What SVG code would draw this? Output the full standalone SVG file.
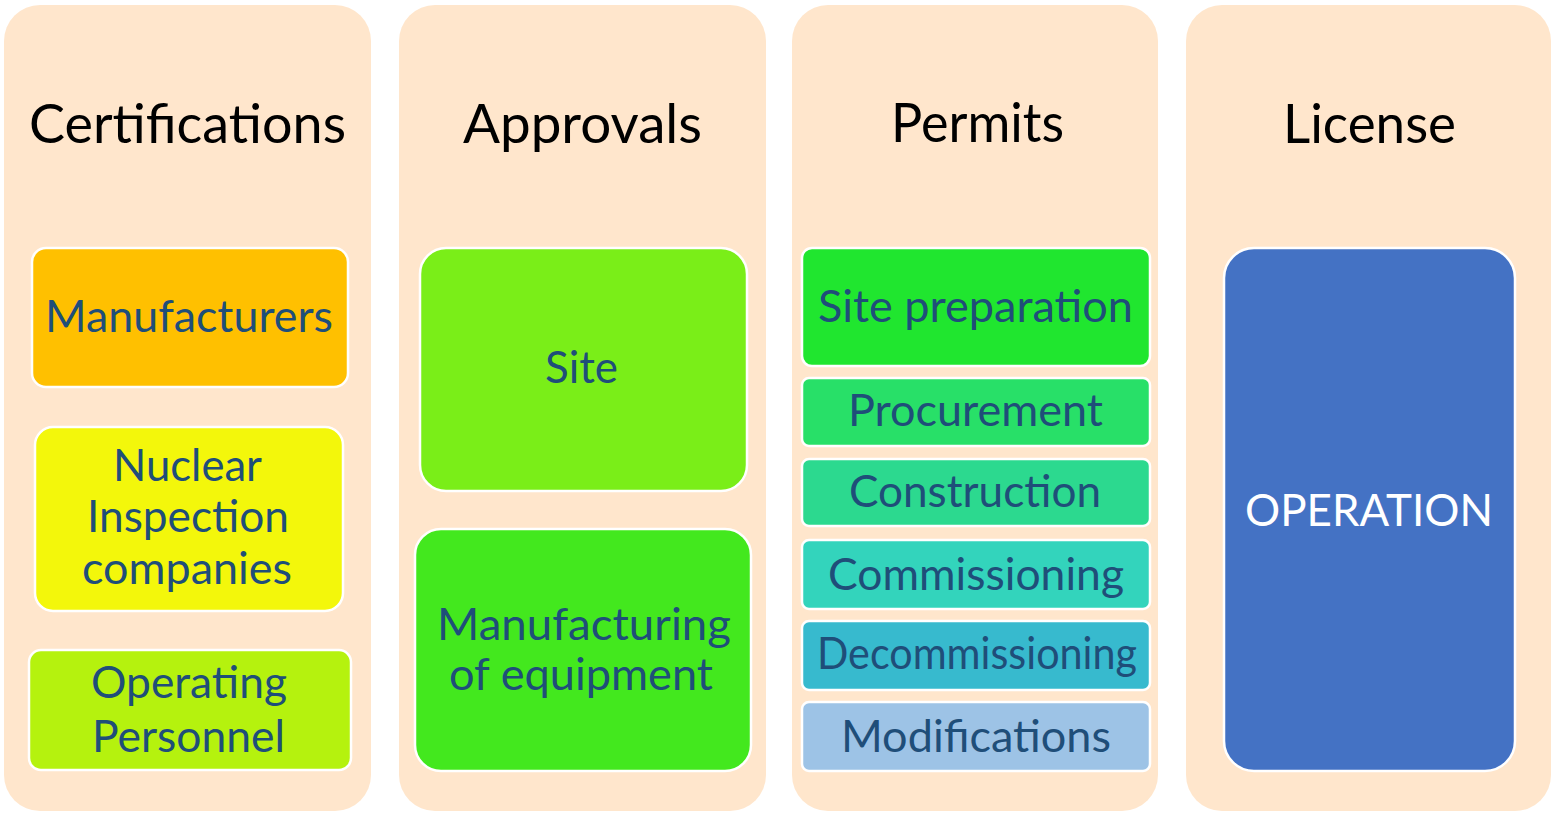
<svg xmlns="http://www.w3.org/2000/svg" width="1557" height="815" viewBox="0 0 1557 815">
<style>
.col{fill:#FFE6CC}
.box{stroke:#FFFFFF;stroke-width:2.5}
.title{font-family:Lato,"Liberation Sans",sans-serif;font-size:54px;fill:#000000;text-anchor:middle}
.lbl{font-family:Lato,"Liberation Sans",sans-serif;font-size:44px;fill:#1F4E79;text-anchor:middle}
.wlbl{font-family:Lato,"Liberation Sans",sans-serif;font-size:44px;fill:#FFFFFF;text-anchor:middle}
</style>
<rect width="1557" height="815" fill="#FFFFFF"/>
<g id="col-certifications">
<rect class="col" x="4" y="5" width="367" height="806" rx="36"/>
<text class="title" x="187.5" y="143" textLength="317" lengthAdjust="spacingAndGlyphs">Certifications</text>
</g>
<g id="col-approvals">
<rect class="col" x="399" y="5" width="367" height="806" rx="36"/>
<text class="title" x="582.5" y="143" textLength="239" lengthAdjust="spacingAndGlyphs">Approvals</text>
</g>
<g id="col-permits">
<rect class="col" x="792" y="5" width="366" height="806" rx="36"/>
<text class="title" x="977.5" y="142" textLength="173" lengthAdjust="spacingAndGlyphs">Permits</text>
</g>
<g id="col-license">
<rect class="col" x="1186" y="5" width="365" height="806" rx="36"/>
<text class="title" x="1369.5" y="143" textLength="173" lengthAdjust="spacingAndGlyphs">License</text>
</g>
<g id="manufacturers">
<rect class="box" x="32" y="248" width="316" height="139" rx="14" fill="#FFC000"/>
<text class="lbl" x="189" y="332" textLength="288" lengthAdjust="spacingAndGlyphs">Manufacturers</text>
</g>
<g id="nuclear-inspection">
<rect class="box" x="35" y="427" width="308" height="184" rx="18" fill="#F3F70B"/>
<text class="lbl" x="187.5" y="481" textLength="149" lengthAdjust="spacingAndGlyphs">Nuclear</text>
<text class="lbl" x="188" y="532" textLength="202" lengthAdjust="spacingAndGlyphs">Inspection</text>
<text class="lbl" x="187" y="584" textLength="210" lengthAdjust="spacingAndGlyphs">companies</text>
</g>
<g id="operating-personnel">
<rect class="box" x="29" y="650" width="322" height="120" rx="12" fill="#B5F20E"/>
<text class="lbl" x="189" y="698" textLength="196" lengthAdjust="spacingAndGlyphs">Operating</text>
<text class="lbl" x="188.5" y="752" textLength="193" lengthAdjust="spacingAndGlyphs">Personnel</text>
</g>
<g id="site">
<rect class="box" x="420" y="248" width="327" height="243" rx="26" fill="#7AEE18"/>
<text class="lbl" x="581.5" y="383" textLength="73" lengthAdjust="spacingAndGlyphs">Site</text>
</g>
<g id="manufacturing-equipment">
<rect class="box" x="415" y="529" width="336" height="242" rx="26" fill="#43E81E"/>
<text class="lbl" x="584" y="640" textLength="294" lengthAdjust="spacingAndGlyphs">Manufacturing</text>
<text class="lbl" x="581" y="690" textLength="264" lengthAdjust="spacingAndGlyphs">of equipment</text>
</g>
<g id="site-preparation">
<rect class="box" x="802" y="248" width="348" height="118" rx="10" fill="#20E62F"/>
<text class="lbl" x="975.5" y="322" textLength="315" lengthAdjust="spacingAndGlyphs">Site preparation</text>
</g>
<g id="procurement">
<rect class="box" x="802" y="378" width="348" height="68" rx="7" fill="#28E068"/>
<text class="lbl" x="975.5" y="426" textLength="255" lengthAdjust="spacingAndGlyphs">Procurement</text>
</g>
<g id="construction">
<rect class="box" x="802" y="459" width="348" height="67" rx="7" fill="#2CD98F"/>
<text class="lbl" x="975" y="507" textLength="252" lengthAdjust="spacingAndGlyphs">Construction</text>
</g>
<g id="commissioning">
<rect class="box" x="802" y="540" width="348" height="69" rx="7" fill="#33D4BC"/>
<text class="lbl" x="976" y="590" textLength="296" lengthAdjust="spacingAndGlyphs">Commissioning</text>
</g>
<g id="decommissioning">
<rect class="box" x="802" y="621" width="348" height="69" rx="7" fill="#37BACE"/>
<text class="lbl" x="977" y="669" textLength="320" lengthAdjust="spacingAndGlyphs">Decommissioning</text>
</g>
<g id="modifications">
<rect class="box" x="802" y="702" width="348" height="69" rx="7" fill="#9DC3E6"/>
<text class="lbl" x="976" y="752" textLength="270" lengthAdjust="spacingAndGlyphs">Modifications</text>
</g>
<g id="operation">
<rect class="box" x="1224" y="248" width="291" height="523" rx="30" fill="#4472C4"/>
<text class="wlbl" x="1369" y="526" textLength="248" lengthAdjust="spacingAndGlyphs">OPERATION</text>
</g>
<g id="connectors"></g>
</svg>
